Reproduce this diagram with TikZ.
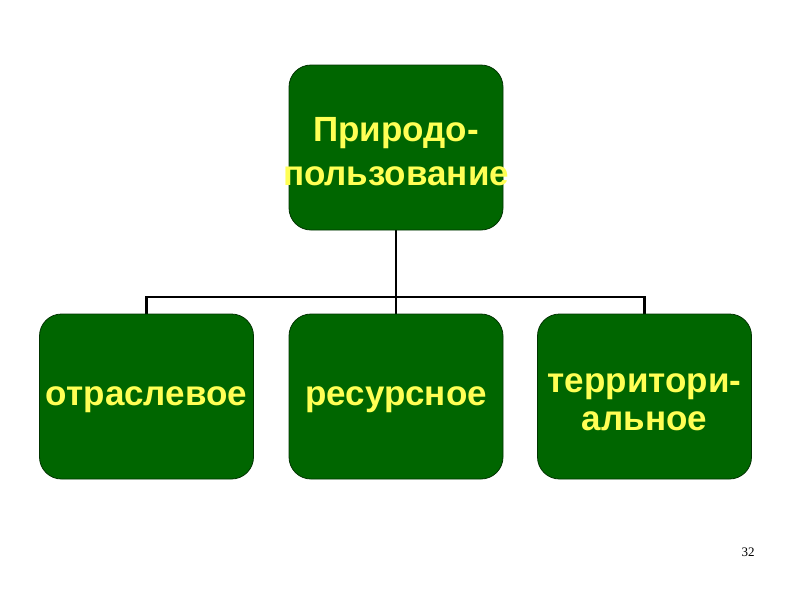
\documentclass[tikz,border=0pt]{standalone}
\usepackage{fontspec}
\usetikzlibrary{backgrounds}
\setmainfont{Liberation Sans}
\newfontfamily\serifnum{Liberation Serif}
\definecolor{boxgreen}{HTML}{006600}
\definecolor{txtyellow}{HTML}{FFFF55}
\begin{document}
\begin{tikzpicture}[x=1pt,y=-1pt,
  gbox/.style={draw=black!80!green, line width=0.8pt, fill=boxgreen, rounded corners=22pt,
    minimum width=214pt, minimum height=165pt, inner sep=0pt},
  gtext/.style={text=txtyellow, font=\fontsize{35}{44}\selectfont\bfseries, align=center, inner sep=0pt},
  conn/.style={draw=black, line width=2.8pt},
  subconn/.style={draw=black, line width=2.3pt}]
\useasboundingbox (0,0) rectangle (794,595);
\node[gbox] (top) at (396,147.5) {};
\node[gbox] (a) at (146.5,396.5) {};
\node[gbox] (b) at (396,396.5) {};
\node[gbox] (c) at (644.5,396.5) {};
\node[gtext] (ttop) at (396,152) {Природо-\\пользование};
\node[gtext] (ta) at (146.5,399.5) {отраслевое};
\node[gtext] (tb) at (396,399.5) {ресурсное};
\node[gtext, font=\fontsize{35}{38}\selectfont\bfseries] (tc) at (644.5,402) {территори-\\альное};
\node[font=\serifnum\fontsize{13}{15}\selectfont] (pg) at (748,552) {32};
\coordinate (h) at (396,297);
\begin{scope}[on background layer]
\fill[white] (0,0) rectangle (794,595);
\draw[conn] (top.south) -- (h);
\draw[subconn] (a.north) |- (h) -| (c.north);
\draw[subconn] (h) -- (b.north);
\end{scope}
\end{tikzpicture}
\end{document}
